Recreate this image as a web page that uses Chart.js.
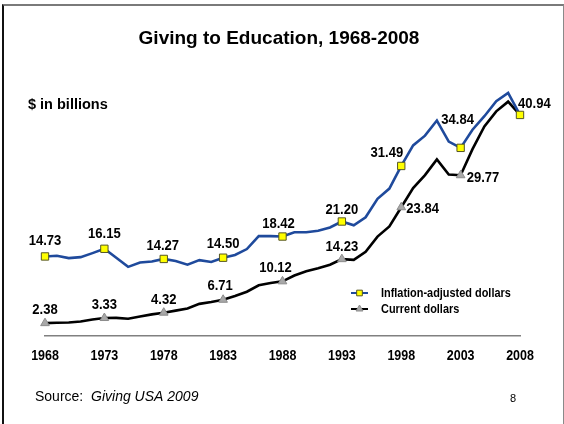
<!DOCTYPE html>
<html>
<head>
<meta charset="utf-8">
<script src="https://cdn.jsdelivr.net/npm/chart.js@4.4.1/dist/chart.umd.min.js"></script>
<style>
  html, body { margin: 0; padding: 0; background: #fff; overflow: hidden; }
  #frame {
    position: absolute; left: 2px; top: 4px; width: 559px; height: 440px;
    border-top: 2px solid #7a7a7a; border-left: 2px solid #111; border-right: 1px solid #8a8a8a;
  }
  #wrap { position: absolute; left: 0; top: 0; width: 564px; height: 424px; }
</style>
</head>
<body>
<div id="frame"></div>
<div id="wrap"><canvas id="chart" width="564" height="424"></canvas></div>
<script>
// === datos ===
const years = [
  1968, 1969, 1970, 1971, 1972, 1973, 1974, 1975, 1976, 1977,
  1978, 1979, 1980, 1981, 1982, 1983, 1984, 1985, 1986, 1987,
  1988, 1989, 1990, 1991, 1992, 1993, 1994, 1995, 1996, 1997,
  1998, 1999, 2000, 2001, 2002, 2003, 2004, 2005, 2006, 2007, 2008
];

// billions, inflation-adjusted
const inflationAdjusted = [
  14.73, 14.85, 14.42, 14.60, 15.35, 16.15, 14.50, 12.80, 13.60, 13.80,
  14.27, 13.90, 13.20, 14.05, 13.70, 14.50, 15.00, 16.10, 18.50, 18.50,
  18.42, 19.20, 19.20, 19.50, 20.10, 21.20, 20.50, 22.00, 25.40, 27.30,
  31.49, 35.30, 37.10, 39.90, 36.00, 34.84, 38.20, 40.70, 43.50, 45.00, 40.94
];

// billions, current dollars
const currentDollars = [
  2.38, 2.45, 2.50, 2.70, 3.05, 3.33, 3.35, 3.20, 3.60, 4.00,
  4.32, 4.70, 5.10, 5.95, 6.30, 6.71, 7.40, 8.20, 9.40, 9.80,
  10.12, 11.20, 12.00, 12.55, 13.20, 14.23, 14.10, 15.60, 18.40, 20.30,
  23.84, 27.40, 29.80, 32.70, 29.90, 29.77, 34.60, 38.80, 41.60, 43.40, 40.94
];

// años con marcador, etiqueta y rótulo en el eje
const markedYears = [1968, 1973, 1978, 1983, 1988, 1993, 1998, 2003, 2008];

const SANS = "'Liberation Sans', Arial, sans-serif";

// posición de cada etiqueta respecto a su marcador: [dx, dy, align]
const blueLabelPos = {
  1968: [0, -15, 'center'], 1973: [0, -15, 'center'], 1978: [-1, -13, 'center'],
  1983: [0, -14, 'center'], 1988: [-4, -13, 'center'], 1993: [0, -12, 'center'],
  1998: [2, -13, 'right'], 2003: [-3, -28, 'center'], 2008: [-2, -11, 'left']
};
const blackLabelPos = {
  1968: [0, -13, 'center'], 1973: [0, -13, 'center'], 1978: [0, -13, 'center'],
  1983: [-3, -14, 'center'], 1988: [-7, -13, 'center'], 1993: [0, -12, 'center'],
  1998: [5, 2, 'left'], 2003: [6, 3, 'left']
};

const isMarked = (i) => markedYears.includes(years[i]);

// texto angosto: se comprime en horizontal con scale
function textoAngosto(ctx, txt, x, y, align, font, sx) {
  ctx.save();
  ctx.translate(x, y);
  ctx.scale(sx, 1);
  ctx.font = font;
  ctx.textAlign = align;
  ctx.textBaseline = 'middle';
  ctx.fillText(txt, 0, 0);
  ctx.restore();
}

// textos, etiquetas, rótulos del eje y leyenda dibujados sobre el canvas
const textosPlugin = {
  id: 'textos',
  afterDatasetsDraw(chart) {
    const ctx = chart.ctx;
    ctx.save();
    ctx.fillStyle = '#000';

    ctx.font = 'bold 19px ' + SANS;
    ctx.textAlign = 'center';
    ctx.textBaseline = 'alphabetic';
    ctx.fillText('Giving to Education, 1968-2008', 279, 44);

    ctx.font = 'bold 14.5px ' + SANS;
    ctx.textAlign = 'left';
    ctx.fillText('$ in billions', 28, 108.5);

    // etiquetas de valores
    const labelFont = 'bold 14.5px ' + SANS;
    [[0, blueLabelPos], [1, blackLabelPos]].forEach(([di, pos]) => {
      const meta = chart.getDatasetMeta(di);
      const data = chart.data.datasets[di].data;
      markedYears.forEach(y => {
        const p = pos[y];
        if (!p) return;
        const i = years.indexOf(y);
        const pt = meta.data[i];
        textoAngosto(ctx, data[i].toFixed(2), pt.x + p[0], pt.y + p[1], p[2], labelFont, 0.9);
      });
    });

    // rótulos del eje x
    const xs = chart.scales.x;
    const yEje = chart.chartArea.bottom + 20;
    markedYears.forEach(y => {
      const px = xs.getPixelForValue(years.indexOf(y));
      textoAngosto(ctx, String(y), px, yEje, 'center', 'bold 14.5px ' + SANS, 0.86);
    });

    // leyenda
    chart.data.datasets.forEach((ds, k) => {
      const y = 293 + k * 16;
      ctx.strokeStyle = ds.borderColor;
      ctx.lineWidth = 2;
      ctx.beginPath();
      ctx.moveTo(351, y);
      ctx.lineTo(368, y);
      ctx.stroke();
      ctx.fillStyle = ds.pointBackgroundColor;
      ctx.strokeStyle = ds.pointBorderColor;
      ctx.lineWidth = 1;
      Chart.helpers.drawPoint(ctx, {
        pointStyle: ds.pointStyle, radius: 4, borderWidth: 1
      }, 359.5, y);
      ctx.fillStyle = '#000';
      textoAngosto(ctx, ds.label, 381, y, 'left', 'bold 13px ' + SANS, 0.84);
    });

    ctx.textAlign = 'left';
    ctx.textBaseline = 'middle';
    ctx.font = '14px ' + SANS;
    ctx.fillText('Source:  ', 35, 397);
    const w = ctx.measureText('Source:  ').width;
    ctx.font = 'italic 14px ' + SANS;
    ctx.fillText('Giving USA 2009', 35 + w, 397);

    ctx.font = '11px ' + SANS;
    ctx.fillText('8', 510, 399);
    ctx.restore();
  }
};

new Chart(document.getElementById('chart'), {
  type: 'line',
  data: {
    labels: years,
    datasets: [
      {
        label: 'Inflation-adjusted dollars',
        data: inflationAdjusted,
        borderColor: '#1f4a9c',
        borderWidth: 2.6,
        pointStyle: 'rect',
        pointBackgroundColor: '#ffff00',
        pointBorderColor: '#555522',
        pointBorderWidth: 1,
        pointRadius: (c) => isMarked(c.dataIndex) ? 5.2 : 0,
        tension: 0,
        clip: false
      },
      {
        label: 'Current dollars',
        data: currentDollars,
        borderColor: '#000000',
        borderWidth: 2.6,
        pointStyle: 'triangle',
        pointBackgroundColor: '#a8a8a8',
        pointBorderColor: '#8c8c8c',
        pointBorderWidth: 1,
        pointRadius: (c) => (isMarked(c.dataIndex) && years[c.dataIndex] !== 2008) ? 5 : 0,
        tension: 0,
        clip: false
      }
    ]
  },
  options: {
    responsive: false,
    animation: false,
    events: [],
    layout: { padding: { left: 45, right: 44, top: 93, bottom: 50 } },
    plugins: {
      legend: { display: false },
      title: { display: false },
      tooltip: { enabled: false }
    },
    scales: {
      x: {
        offset: false,
        grid: { display: false, drawTicks: false },
        border: { display: true, color: '#808080', width: 1.5 },
        ticks: {
          autoSkip: false,
          maxRotation: 0,
          padding: 10,
          color: 'rgba(0,0,0,0)',
          font: { family: SANS, size: 15, weight: 'bold' },
          callback: (v, i) => markedYears.includes(years[i]) ? String(years[i]) : ''
        }
      },
      y: {
        display: false,
        min: 0,
        max: 45
      }
    }
  },
  plugins: [textosPlugin]
});
</script>
</body>
</html>
